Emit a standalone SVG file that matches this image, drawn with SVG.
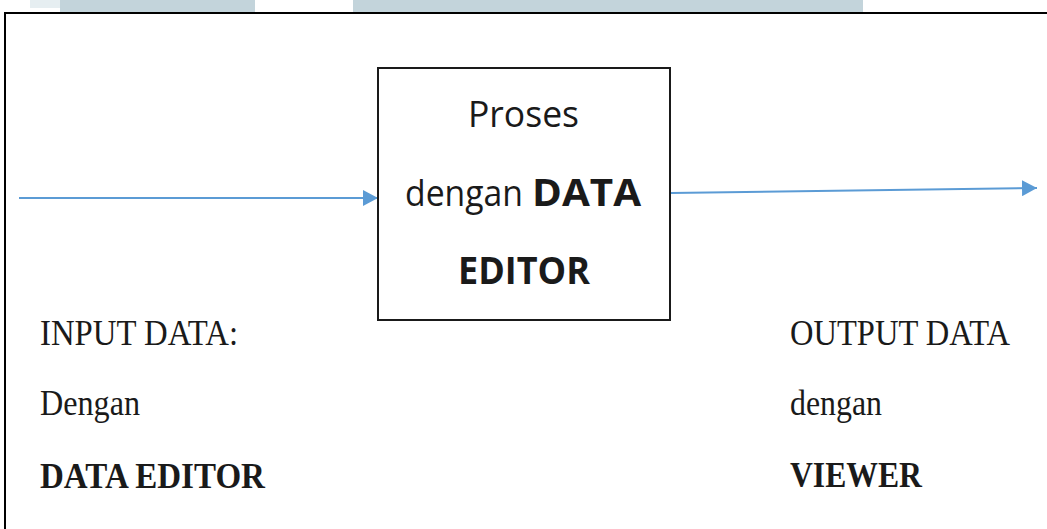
<svg xmlns="http://www.w3.org/2000/svg" width="1047" height="529" viewBox="0 0 1047 529">
  <style>
    .frame { fill: none; stroke: #000; stroke-width: 2; }
    .band { fill: #c3d4db; }
    .flow { fill: none; stroke: #5b9bd5; stroke-width: 2; }
    .box { fill: #fff; stroke: #1a1a1a; stroke-width: 2; }
    .sans { font-family: "Open Sans", "Noto Sans", sans-serif; font-size: 37px; fill: #1a1a1a; }
    .serif { font-family: "Liberation Serif", "Times New Roman", serif; font-size: 36px; fill: #1a1a1a; }
    .bold { font-weight: bold; }
  </style>
  <defs>
    <marker id="arrow" markerUnits="userSpaceOnUse" markerWidth="16" markerHeight="16" refX="15" refY="8" orient="auto">
      <path d="M0,0 L15,8 L0,16 Z" fill="#5b9bd5"/>
    </marker>
  </defs>

  <rect width="1047" height="529" fill="#fff"/>

  <!-- header strip above the frame -->
  <g id="header">
    <rect x="30" y="0" width="30" height="8" fill="#e6eef1"/>
    <rect class="band" x="60" y="0" width="195" height="12"/>
    <rect class="band" x="353" y="0" width="510" height="12"/>
  </g>

  <!-- open frame: top and left edges -->
  <path class="frame" d="M5,529 L5,13 L1047,13"/>

  <g id="connectors">
    <line class="flow" x1="19" y1="198" x2="378" y2="198" marker-end="url(#arrow)"/>
    <line class="flow" x1="671" y1="193" x2="1037" y2="188" marker-end="url(#arrow)"/>
  </g>

  <g id="process">
    <rect class="box" x="378" y="68" width="292" height="252"/>
    <text class="sans" x="468" y="127" textLength="111" lengthAdjust="spacingAndGlyphs">Proses</text>
    <text class="sans" x="405" y="206" textLength="118" lengthAdjust="spacingAndGlyphs">dengan</text>
    <text class="sans bold" x="532" y="206" textLength="109" lengthAdjust="spacingAndGlyphs">DATA</text>
    <text class="sans bold" x="458" y="284" textLength="132" lengthAdjust="spacingAndGlyphs">EDITOR</text>
  </g>

  <g id="input">
    <text class="serif" x="40" y="345" textLength="198" lengthAdjust="spacingAndGlyphs">INPUT DATA:</text>
    <text class="serif" x="40" y="415" textLength="100" lengthAdjust="spacingAndGlyphs">Dengan</text>
    <text class="serif bold" x="40" y="488" textLength="225" lengthAdjust="spacingAndGlyphs">DATA EDITOR</text>
  </g>

  <g id="output">
    <text class="serif" x="790" y="345" textLength="220" lengthAdjust="spacingAndGlyphs">OUTPUT DATA</text>
    <text class="serif" x="790" y="415" textLength="92" lengthAdjust="spacingAndGlyphs">dengan</text>
    <text class="serif bold" x="790" y="487" textLength="132" lengthAdjust="spacingAndGlyphs">VIEWER</text>
  </g>
</svg>
